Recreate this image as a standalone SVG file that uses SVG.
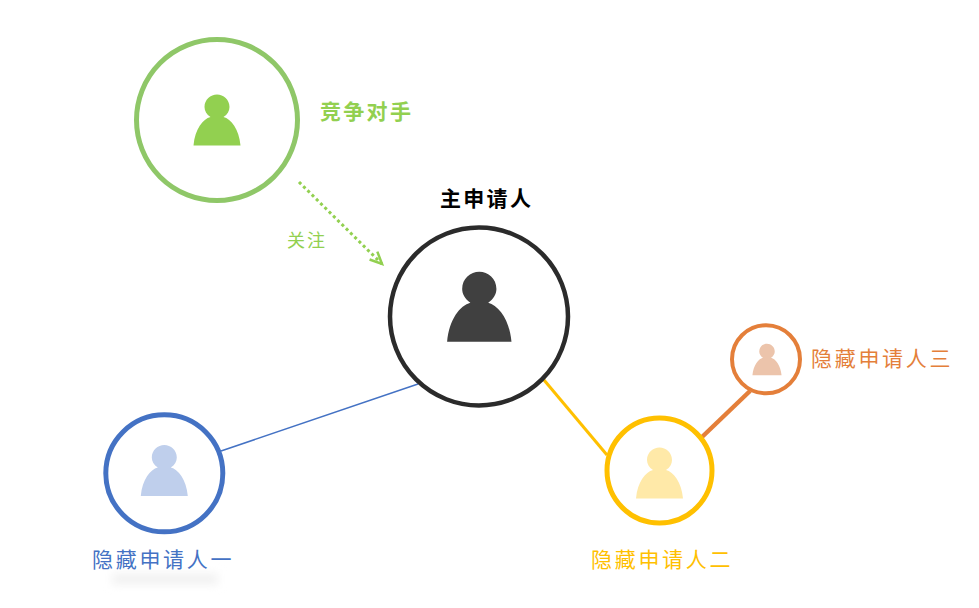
<svg xmlns="http://www.w3.org/2000/svg" width="979" height="608" viewBox="0 0 979 608">
<style>
text{font-family:"Noto Sans CJK SC","Noto Sans",sans-serif}
.lbl{font-size:21px;letter-spacing:2.700px}
.bold{font-size:21px;font-weight:700;letter-spacing:2.300px}
.ring{fill:#fff}
</style>
<defs>
<path id="p" d="M-23.500 25.500C-22 9-14 -1-6.500 -3C-10.500-5.500-12.500-9.500-12.500-13C-12.500-20.500-6.500-25.500 0-25.500C6.500-25.500 12.500-20.500 12.500-13C12.500-9.500 10.500-5.500 6.500 -3C14-1 22 9 23.500 25.500Z"/>
<marker id="ah" markerUnits="userSpaceOnUse" markerWidth="16" markerHeight="14" refX="13" refY="7" orient="auto"><path d="M1 1.500L13 7L1 12.500" fill="none" stroke="#92d050" stroke-width="2.500"/></marker>
<filter id="b" x="-20%" y="-300%" width="140%" height="700%"><feGaussianBlur stdDeviation="5"/></filter>
</defs>
<rect width="979" height="608" fill="#fff"/>
<rect x="112" y="574" width="106" height="10" fill="#f0f0f0" filter="url(#b)"/>
<g id="connectors" fill="none">
<path d="M299 182L382 264" stroke="#92d050" stroke-width="3" stroke-dasharray="3 3" marker-end="url(#ah)"/>
<path d="M221 451L418 384" stroke="#4472c4" stroke-width="1.500"/>
<path d="M544 380L607 455" stroke="#ffc000" stroke-width="3"/>
<path d="M702 437L750 391" stroke="#e47f3a" stroke-width="4.500"/>
</g>
<g id="competitor">
<circle class="ring" cx="217" cy="120" r="80.500" stroke="#8fc768" stroke-width="5"/>
<use href="#p" x="217" y="120" fill="#92d050"/>
<text class="bold" x="320" y="119" fill="#92d050">竞争对手</text>
</g>
<text id="follow-label" x="287" y="247" font-size="18" letter-spacing="2" fill="#92d050">关注</text>
<g id="main">
<circle class="ring" cx="479" cy="316.500" r="89" stroke="#2b2b2b" stroke-width="4.500"/>
<use href="#p" transform="translate(479.300 306.800) scale(1.370)" fill="#404040"/>
<text class="bold" x="440" y="206" fill="#000">主申请人</text>
</g>
<g id="hidden1">
<circle class="ring" cx="164.300" cy="473.300" r="58.500" stroke="#4472c4" stroke-width="5"/>
<use href="#p" x="164.300" y="470.500" fill="#bfcfec"/>
<text class="lbl" x="92" y="567" fill="#4472c4">隐藏申请人一</text>
</g>
<g id="hidden2">
<circle class="ring" cx="659.500" cy="470.500" r="52.500" stroke="#ffc000" stroke-width="5"/>
<use href="#p" x="659.500" y="473" fill="#ffe9a8"/>
<text class="lbl" x="591" y="567" fill="#ffc000">隐藏申请人二</text>
</g>
<g id="hidden3">
<circle class="ring" cx="766" cy="359.300" r="34" stroke="#e47f3a" stroke-width="4"/>
<use href="#p" transform="translate(767 359.500) scale(.62)" fill="#ecc4ab"/>
<text class="lbl" x="811" y="366" fill="#e47f3a">隐藏申请人三</text>
</g>
</svg>
